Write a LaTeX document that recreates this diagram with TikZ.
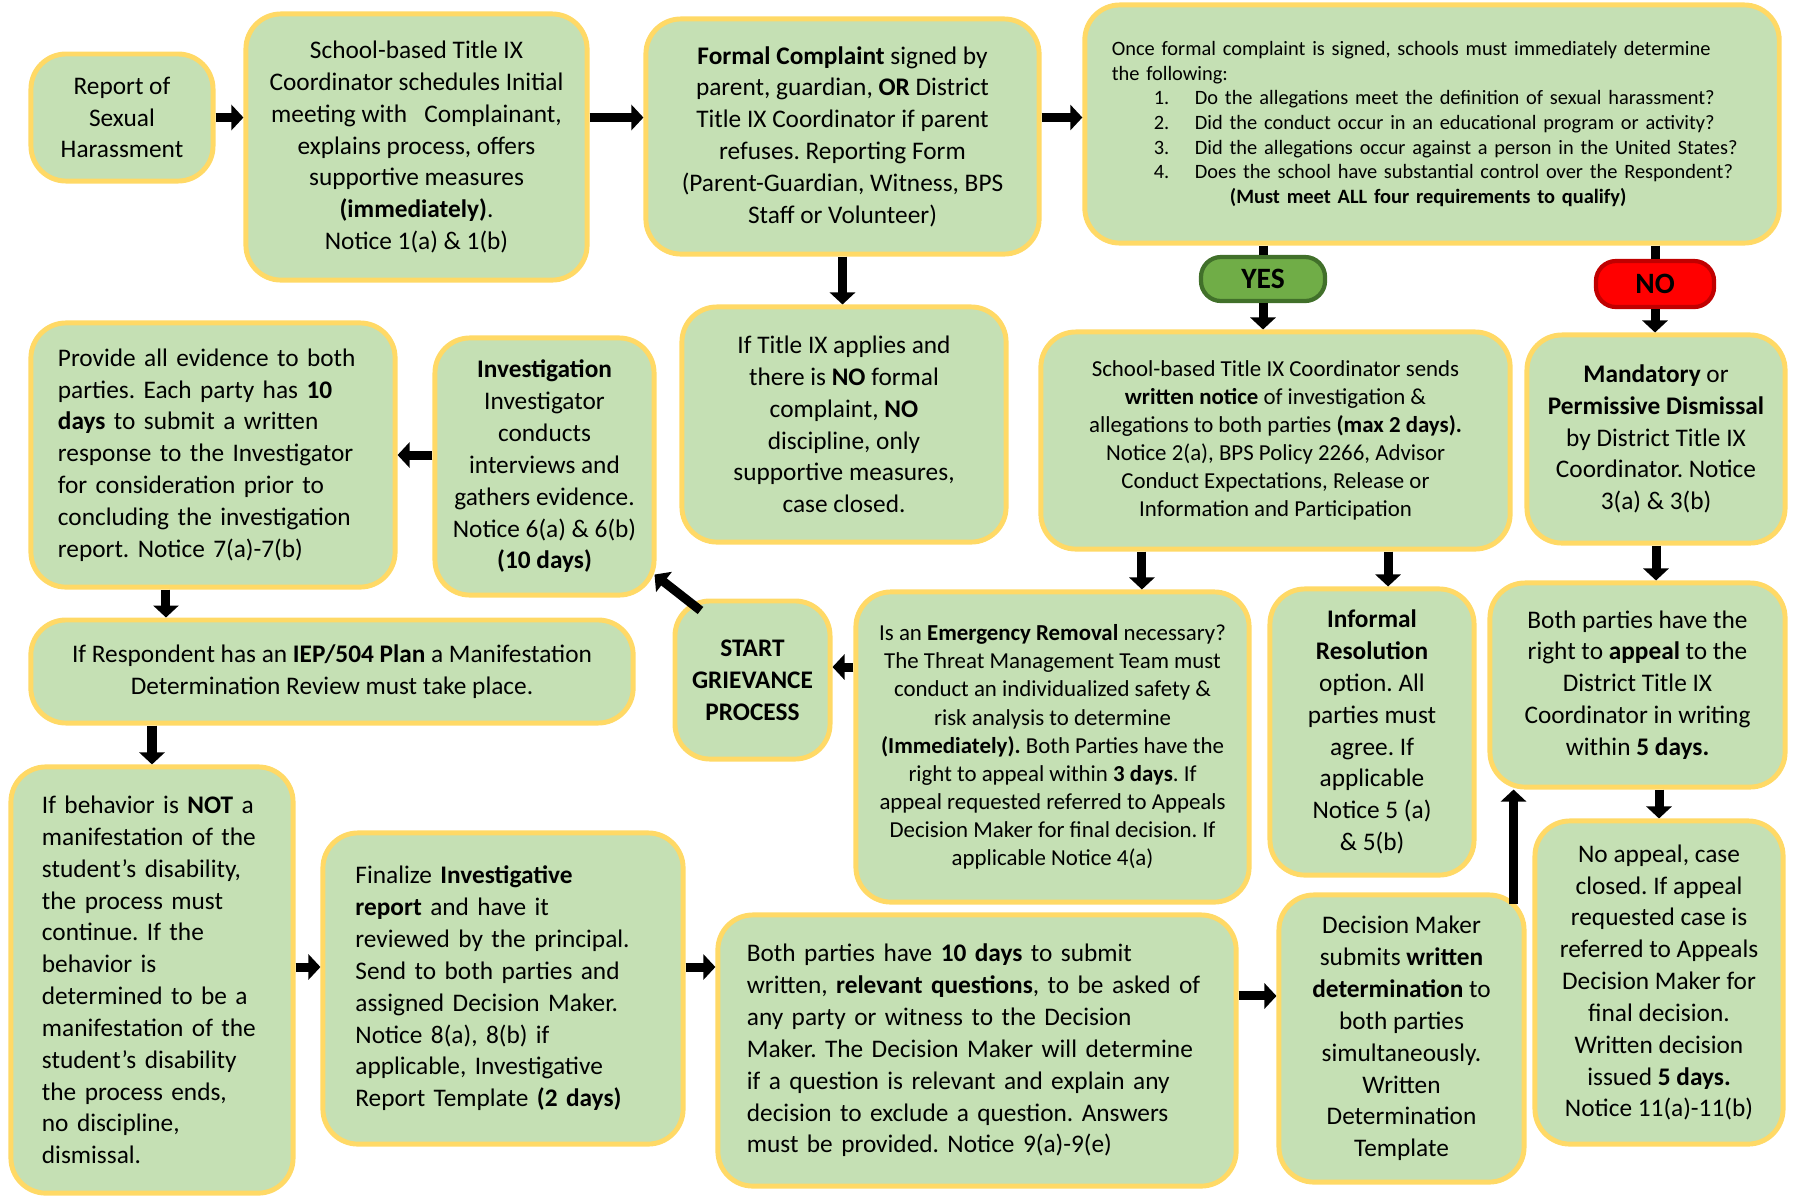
\documentclass[tikz,border=0pt]{standalone}
\usepackage{fontspec}
\setmainfont{Carlito}
\usetikzlibrary{arrows.meta}
\frenchspacing
\definecolor{boxfill}{HTML}{C5E0B4}
\definecolor{boxline}{HTML}{FFD966}
\definecolor{yesfill}{HTML}{70AD47}
\definecolor{yesline}{HTML}{41702A}
\definecolor{nofill}{HTML}{FF0000}
\definecolor{noline}{HTML}{C00000}
\newcommand\mainsize{\fontsize{7.2}{9.05}\selectfont}
\newcommand\smallsize{\fontsize{6.5}{8}\selectfont}
\newcommand\tinysize{\fontsize{5.8}{7}\selectfont}

\begin{document}
\begin{tikzpicture}[x=0.01cm,y=-0.01cm,
box/.style={draw=boxline,fill=boxfill,line width=1.4pt,rounded corners=0.35cm,align=center,inner sep=0pt,font=\mainsize},
pill/.style={line width=1.2pt,rounded corners=0.2cm,inner sep=0pt,font=\fontsize{8.4}{10}\selectfont\bfseries},
arr/.style={line width=0.09cm,-{Triangle[width=0.25cm,length=0.12cm]}}]
\useasboundingbox (0,0) rectangle (1794,1196);
\node[box,minimum width=1.82cm,minimum height=1.27cm](report)at(122,117.5){Report of\\Sexual\\Harassment};
\node[box,minimum width=3.41cm,minimum height=2.66cm](coord)at(416.5,147){School-based Title IX\\Coordinator schedules Initial\\meeting with\ \ \ Complainant,\\explains process, offers\\supportive measures\\\textbf{(immediately)}.\\Notice 1(a) \& 1(b)};
\node[box,minimum width=3.93cm,minimum height=2.35cm](formal)at(842.5,136.5){\textbf{Formal Complaint} signed by\\parent, guardian, \textbf{OR} District\\Title IX Coordinator if parent\\refuses. Reporting Form\\(Parent-Guardian, Witness, BPS\\Staff or Volunteer)};
\node[box,minimum width=6.94cm,minimum height=2.38cm,text width=6.4cm,align=left,font=\tinysize](determine)at(1432,124){Once formal complaint is signed, schools must immediately determine\\the following:\\
\hspace*{0.42cm}\makebox[0.41cm][l]{1.}Do the allegations meet the definition of sexual harassment?\\
\hspace*{0.42cm}\makebox[0.41cm][l]{2.}Did the conduct occur in an educational program or activity?\\
\hspace*{0.42cm}\makebox[0.41cm][l]{3.}Did the allegations occur against a person in the United States?\\
\hspace*{0.42cm}\makebox[0.41cm][l]{4.}Does the school have substantial control over the Respondent?\\
\hspace*{1.18cm}\textbf{(Must meet ALL four requirements to qualify)}};
\node[pill,draw=yesline,fill=yesfill,minimum width=1.24cm,minimum height=0.44cm](yes)at(1263,279){YES};
\node[pill,draw=noline,fill=nofill,minimum width=1.18cm,minimum height=0.46cm](no)at(1655,284){NO};
\node[box,minimum width=3.64cm,minimum height=2.64cm,text width=3.1cm,align=left](evidence)at(213,455){Provide all evidence to both\\parties. Each party has \textbf{10}\\\textbf{days} to submit a written\\response to the Investigator\\for consideration prior to\\concluding the investigation\\report. Notice 7(a)-7(b)};
\node[box,minimum width=2.19cm,minimum height=2.57cm](investigation)at(544.5,466.5){\textbf{Investigation}\\Investigator\\conducts\\interviews and\\gathers evidence.\\Notice 6(a) \& 6(b)\\\textbf{(10 days)}};
\node[box,minimum width=3.24cm,minimum height=2.35cm](noformal)at(844,424.5){If Title IX applies and\\there is \textbf{NO} formal\\complaint, \textbf{NO}\\discipline, only\\supportive measures,\\case closed.};
\node[box,minimum width=4.69cm,minimum height=2.17cm,font=\smallsize](notice)at(1275.5,440.5){School-based Title IX Coordinator sends\\\textbf{written notice} of investigation \&\\allegations to both parties \textbf{(max 2 days).}\\Notice 2(a), BPS Policy 2266, Advisor\\Conduct Expectations, Release or\\Information and Participation};
\node[box,minimum width=2.58cm,minimum height=2.08cm](dismissal)at(1656,439){\textbf{Mandatory} or\\\textbf{Permissive Dismissal}\\by District Title IX\\Coordinator. Notice\\3(a) \& 3(b)};
\node[box,minimum width=6.02cm,minimum height=1.03cm](iep)at(332,671.5){If Respondent has an \textbf{IEP/504 Plan} a Manifestation\\Determination Review must take place.};
\node[box,minimum width=1.55cm,minimum height=1.58cm,font=\mainsize\bfseries](start)at(752.5,680){START\\GRIEVANCE\\PROCESS};
\node[box,minimum width=3.93cm,minimum height=3.10cm,font=\smallsize](emergency)at(1052.5,747){Is an \textbf{Emergency Removal} necessary?\\The Threat Management Team must\\conduct an individualized safety \&\\risk analysis to determine\\\textbf{(Immediately).} Both Parties have the\\right to appeal within \textbf{3 days}. If\\appeal requested referred to Appeals\\Decision Maker for final decision. If\\applicable Notice 4(a)};
\node[box,minimum width=2.04cm,minimum height=2.86cm](informal)at(1372,732){\textbf{Informal}\\\textbf{Resolution}\\option. All\\parties must\\agree. If\\applicable\\Notice 5 (a)\\\& 5(b)};
\node[box,minimum width=2.95cm,minimum height=2.04cm](appeal)at(1637.5,685){Both parties have the\\right to \textbf{appeal} to the\\District Title IX\\Coordinator in writing\\within \textbf{5 days.}};
\node[box,minimum width=2.82cm,minimum height=4.26cm,text width=2.2cm,align=left](behavior)at(152,980){If behavior is \textbf{NOT} a\\manifestation of the\\student’s disability,\\the process must\\continue. If the\\behavior is\\determined to be a\\manifestation of the\\student’s disability\\the process ends,\\no discipline,\\dismissal.};
\node[box,minimum width=3.60cm,minimum height=3.11cm,text width=2.95cm,align=left](finalize)at(503,988.5){Finalize \textbf{Investigative}\\\textbf{report} and have it\\reviewed by the principal.\\Send to both parties and\\assigned Decision Maker.\\Notice 8(a), 8(b) if\\applicable, Investigative\\Report Template \textbf{(2 days)}};
\node[box,minimum width=5.18cm,minimum height=2.71cm,text width=4.6cm,align=left](questions)at(977,1050.5){Both parties have \textbf{10 days} to submit\\written, \textbf{relevant questions}, to be asked of\\any party or witness to the Decision\\Maker. The Decision Maker will determine\\if a question is relevant and explain any\\decision to exclude a question. Answers\\must be provided. Notice 9(a)-9(e)};
\node[box,minimum width=2.45cm,minimum height=2.87cm](decision)at(1401.5,1038.5){Decision Maker\\submits \textbf{written}\\\textbf{determination} to\\both parties\\simultaneously.\\Written\\Determination\\Template};
\node[box,minimum width=2.48cm,minimum height=3.23cm](noappeal)at(1659,982.5){No appeal, case\\closed. If appeal\\requested case is\\referred to Appeals\\Decision Maker for\\final decision.\\Written decision\\issued \textbf{5 days.}\\Notice 11(a)-11(b)};
\coordinate(s)at([yshift=0.13cm]start.east);
\draw[arr](report.east)--(report.east-|coord.west);
\draw[arr](coord.east|-report.east)--(formal.west|-report.east);
\draw[arr](formal.east|-report.east)--(determine.west|-report.east);
\draw[arr](formal.south)--(formal.south|-noformal.north);
\draw[line width=0.09cm](yes.north|-determine.south)--(yes.north);
\draw[arr](yes.south)--(yes.south|-notice.north);
\draw[line width=0.09cm](no.north|-determine.south)--(no.north);
\draw[arr](no.south)--(no.south|-dismissal.north);
\draw[arr](investigation.west|-evidence.east)--(evidence.east);
\draw[arr]([shift={(28,12)}]start.north west)--([shift={(-2,-23)}]investigation.south east);
\draw[arr](emergency.west|-s)--(s);
\draw[arr]([xshift=-1.335cm]notice.south)--([xshift=-1.335cm]notice.south|-emergency.north);
\draw[arr]([xshift=1.125cm]notice.south)--([xshift=1.125cm]notice.south|-informal.north);
\draw[arr](dismissal.south)--(dismissal.south|-appeal.north);
\draw[arr](noappeal.north|-appeal.south)--(noappeal.north);
\draw[arr]([xshift=-0.47cm]evidence.south)--([xshift=-0.47cm]evidence.south|-iep.north);
\draw[arr](behavior.north|-iep.south)--(behavior.north);
\draw[arr]([yshift=0.13cm]behavior.east)--([yshift=0.13cm]behavior.east-|finalize.west);
\draw[arr]([yshift=0.13cm]behavior.east-|finalize.east)--([yshift=0.13cm]behavior.east-|questions.west);
\draw[arr]([yshift=0.545cm]questions.east)--([yshift=0.545cm]questions.east-|decision.west);
\draw[arr]([xshift=-0.13cm,yshift=-0.12cm]decision.north east)--([xshift=-0.13cm]decision.north east|-appeal.south);
\end{tikzpicture}
\end{document}
